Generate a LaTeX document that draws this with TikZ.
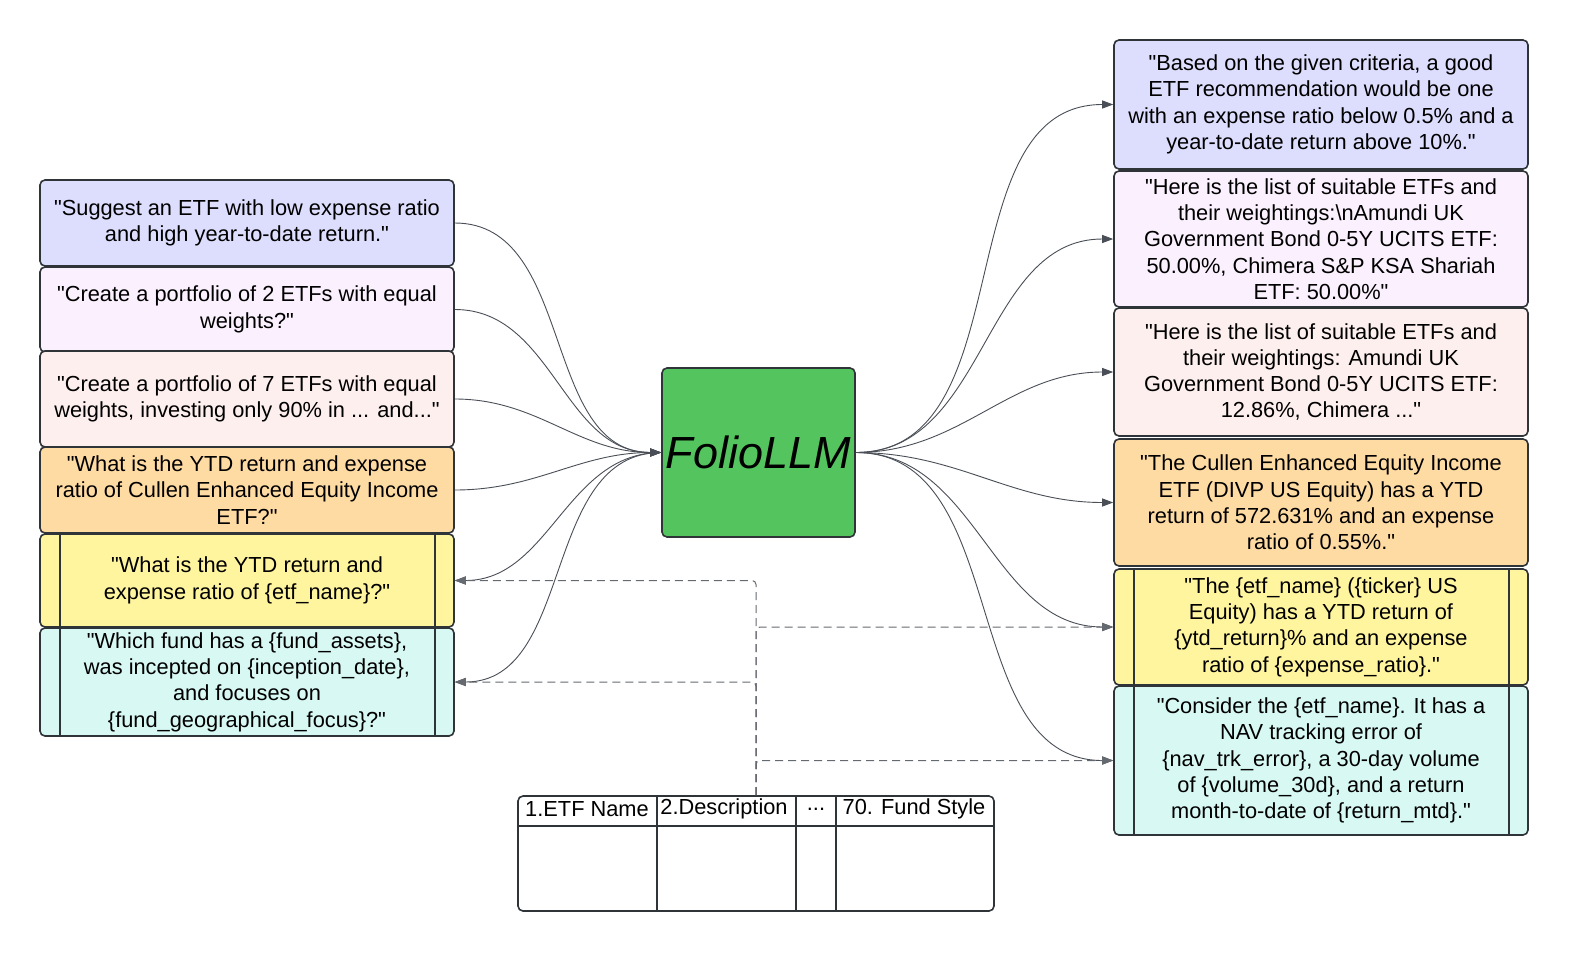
\documentclass[tikz,border=0pt]{standalone}
\usepackage{fontspec}
\setmainfont{Liberation Sans}[Ligatures=TeXOff]
\usetikzlibrary{arrows.meta}
\definecolor{strokec}{HTML}{2F3439}
\definecolor{linec}{HTML}{4A4F57}
\definecolor{cLav}{HTML}{DDDDFD}
\definecolor{cPink}{HTML}{FBF0FD}
\definecolor{cPeach}{HTML}{FDEFEE}
\definecolor{cOrange}{HTML}{FFDBA4}
\definecolor{cYellow}{HTML}{FFF59F}
\definecolor{cCyan}{HTML}{D7F8F3}
\definecolor{cGreen}{HTML}{54C45E}
\begin{document}
\begin{tikzpicture}[x=1pt,y=-1pt,
  txtbox/.style={draw=strokec, line width=1.6pt, rounded corners=5pt, minimum width=414pt,
    inner sep=0pt, align=center, font=\fontsize{21.8}{26.3}\selectfont},
  sidebars/.style={path picture={
    \draw[strokec, line width=1.6pt] ([xshift=20pt]path picture bounding box.north west) -- ([xshift=20pt]path picture bounding box.south west);
    \draw[strokec, line width=1.6pt] ([xshift=-19pt]path picture bounding box.north east) -- ([xshift=-19pt]path picture bounding box.south east);}},
  conn/.style={draw=linec, line width=0.9pt, -{Triangle[length=11pt,width=8pt]}},
  dconn/.style={draw=linec!85, line width=1pt, dash pattern=on 8pt off 5pt, rounded corners=4pt, -{Triangle[length=11pt,width=8pt]}},
  hdr/.style={inner sep=0pt, font=\fontsize{21.8}{24}\selectfont}
]
\useasboundingbox (0,0) rectangle (1577,956);
\fill[white] (0,0) rectangle (1577,956);

% left boxes
\node[txtbox, fill=cLav, minimum height=86pt] (l1) at (247,223) {"Suggest an ETF with low expense ratio\\and high year-to-date return."};
\node[txtbox, fill=cPink, minimum height=85pt] (l2) at (247,309.5) {"Create a portfolio of 2 ETFs with equal\\weights?"};
\node[txtbox, fill=cPeach, minimum height=96pt] (l3) at (247,399) {"Create a portfolio of 7 ETFs with equal\\weights, investing only 90\% in ... and..."};
\node[txtbox, fill=cOrange, minimum height=86pt] (l4) at (247,490) {"What is the YTD return and expense\\ratio of Cullen Enhanced Equity Income\\ETF?"};
\node[txtbox, fill=cYellow, minimum height=93pt, sidebars] (l5) at (247,580.5) {"What is the YTD return and\\expense ratio of \{etf\_name\}?"};
\node[txtbox, fill=cCyan, minimum height=108pt, sidebars] (l6) at (247,682) {"Which fund has a \{fund\_assets\},\\was incepted on \{inception\_date\},\\and focuses on\\\{fund\_geographical\_focus\}?"};

% right boxes
\node[txtbox, fill=cLav, minimum height=129pt] (r1) at (1321,104.5) {"Based on the given criteria, a good\\ETF recommendation would be one\\with an expense ratio below 0.5\% and a\\year-to-date return above 10\%."};
\node[txtbox, fill=cPink, minimum height=136pt] (r2) at (1321,239) {"Here is the list of suitable ETFs and\\their weightings:\textbackslash nAmundi UK\\Government Bond 0-5Y UCITS ETF:\\50.00\%, Chimera S\&P KSA Shariah\\ETF: 50.00\%"};
\node[txtbox, fill=cPeach, minimum height=128pt] (r3) at (1321,372) {"Here is the list of suitable ETFs and\\their weightings: Amundi UK\\Government Bond 0-5Y UCITS ETF:\\12.86\%, Chimera ..."};
\node[txtbox, fill=cOrange, minimum height=127pt] (r4) at (1321,502.5) {"The Cullen Enhanced Equity Income\\ETF (DIVP US Equity) has a YTD\\return of 572.631\% and an expense\\ratio of 0.55\%."};
\node[txtbox, fill=cYellow, minimum height=116pt, sidebars] (r5) at (1321,627) {"The \{etf\_name\} (\{ticker\} US\\Equity) has a YTD return of\\\{ytd\_return\}\% and an expense\\ratio of \{expense\_ratio\}."};
\node[txtbox, fill=cCyan, minimum height=149pt, sidebars] (r6) at (1321,760.5) {"Consider the \{etf\_name\}. It has a\\NAV tracking error of\\\{nav\_trk\_error\}, a 30-day volume\\of \{volume\_30d\}, and a return\\month-to-date of \{return\_mtd\}."};

% central model
\node[draw=strokec, line width=1.6pt, rounded corners=5pt, fill=cGreen, minimum width=193pt, minimum height=169pt, inner sep=0pt, font=\fontsize{45}{50}\selectfont\itshape] (folio) at (758.5,452.5) {FolioLLM};

% table
\node[draw=strokec, line width=1.6pt, rounded corners=5pt, fill=white, minimum width=476pt, minimum height=115pt, inner sep=0pt] (tbl) at (756,853.5) {};
\draw[strokec, line width=1.6pt] (518,826) -- (994,826);
\draw[strokec, line width=1.6pt] (657,796) -- (657,911);
\draw[strokec, line width=1.6pt] (796,796) -- (796,911);
\draw[strokec, line width=1.6pt] (836,796) -- (836,911);
\node[hdr] (h1) at (587,809) {1.ETF Name};
\node[hdr] (h2) at (724,809) {2.Description};
\node[hdr] (h3) at (816,809) {...};
\node[hdr] (h4) at (914,809) {70. Fund Style};

% curved connectors
\draw[conn] (l1.east) to[out=0,in=180] (folio.west);
\draw[conn] (l2.east) to[out=0,in=180] (folio.west);
\draw[conn] (l3.east) to[out=0,in=180] (folio.west);
\draw[conn] (l4.east) to[out=0,in=180] (folio.west);
\draw[conn] (folio.west) to[out=180,in=0] (l5.east);
\draw[conn] (folio.west) to[out=180,in=0] (l6.east);
\draw[conn] (folio.east) to[out=0,in=180] (r1.west);
\draw[conn] (folio.east) to[out=0,in=180] (r2.west);
\draw[conn] (folio.east) to[out=0,in=180] (r3.west);
\draw[conn] (folio.east) to[out=0,in=180] (r4.west);
\draw[conn] (folio.east) to[out=0,in=180] (r5.west);
\draw[conn] (folio.east) to[out=0,in=180] (r6.west);

% dashed connectors from table
\draw[dconn] (tbl.north) |- (l5.east);
\draw[dconn] (tbl.north) |- (l6.east);
\draw[dconn] (tbl.north) |- (r5.west);
\draw[dconn] (tbl.north) |- (r6.west);
\end{tikzpicture}
\end{document}
